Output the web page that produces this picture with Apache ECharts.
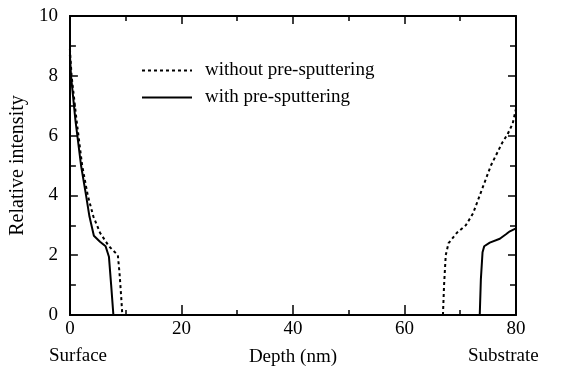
<!DOCTYPE html>
<html>
<head>
<meta charset="utf-8">
<script src="https://cdn.jsdelivr.net/npm/echarts@6/dist/echarts.min.js"></script>
<style>
  html, body { margin: 0; padding: 0; background: #fff; }
  #main { width: 562px; height: 375px; }
</style>
</head>
<body>
<div id="main"></div>
<script>
var dom = document.getElementById('main');
var myChart = echarts.init(dom);

// depth (nm), relative intensity
var withoutSurface = [[0, 8.9], [0.3, 8.0], [1.2, 6.5], [2.2, 5.0], [3.2, 4.0], [4.2, 3.3], [5.4, 2.75], [7.0, 2.3], [8.6, 2.0], [8.9, 1.4], [9.2, 0.6], [9.4, 0]];
var withoutSubstrate = [[66.9, 0], [67.1, 1.0], [67.4, 2.0], [67.9, 2.4], [69.4, 2.75], [71.0, 3.0], [72.3, 3.4], [73.3, 3.9], [74.1, 4.3], [75.5, 5.0], [77.5, 5.75], [78.5, 6.05], [79.4, 6.4], [80, 6.9]];
var withSurface = [[0, 8.7], [0.2, 8.0], [1.0, 6.5], [2.0, 5.0], [2.9, 4.0], [3.5, 3.3], [4.3, 2.65], [5.4, 2.45], [6.4, 2.3], [7.0, 1.95], [7.4, 1.0], [7.8, 0]];
var withSubstrate = [[73.5, 0], [73.7, 1.2], [74.0, 2.1], [74.3, 2.3], [75.3, 2.42], [77.1, 2.55], [78.2, 2.7], [78.9, 2.8], [80, 2.9]];

var seriesNames = ['without pre-sputtering', 'with pre-sputtering'];
var xTicks = [0, 20, 40, 60, 80];
var yTicks = [0, 2, 4, 6, 8, 10];

var font = 'Liberation Serif';

function lineSeries(name, data, dashed) {
    return {
        name: name,
        type: 'line',
        data: data,
        showSymbol: false,
        symbol: 'none',
        lineStyle: { color: '#000', width: 2, type: dashed ? [3, 3] : 'solid' },
        itemStyle: { color: '#000' },
        silent: true
    };
}

var tickStyle = { color: '#000', width: 1.5 };
var frameLine = { onZero: false, lineStyle: { color: '#000', width: 2 } };

var option = {
    animation: false,
    backgroundColor: '#fff',
    grid: { left: 69, right: 46, top: 16, bottom: 60, show: false },
    legend: {
        data: seriesNames,
        orient: 'vertical',
        left: 136,
        top: 56,
        itemWidth: 50,
        itemHeight: 14,
        itemGap: 8,
        itemStyle: { opacity: 0 },
        textStyle: { fontFamily: font, fontSize: 19, color: '#000', padding: [0, 0, 0, 8] }
    },
    xAxis: [{
        type: 'value',
        min: 0, max: 80, interval: 20,
        name: 'Depth (nm)',
        nameLocation: 'middle',
        nameGap: 33,
        nameTextStyle: { fontFamily: font, fontSize: 19, color: '#000' },
        axisLine: frameLine,
        axisTick: { inside: true, length: 10, lineStyle: tickStyle },
        minorTick: { show: true, splitNumber: 2, length: 5, lineStyle: tickStyle },
        axisLabel: { fontFamily: font, fontSize: 19, color: '#000', margin: 5,
            formatter: function (v) { return xTicks.indexOf(v) >= 0 ? v : ''; } },
        splitLine: { show: false }
    }, {
        type: 'value', position: 'top',
        min: 0, max: 80, interval: 20,
        axisLine: frameLine,
        axisTick: { inside: true, length: 8, lineStyle: tickStyle },
        minorTick: { show: true, splitNumber: 2, length: 5, lineStyle: tickStyle },
        axisLabel: { show: false },
        splitLine: { show: false }
    }],
    yAxis: [{
        type: 'value',
        min: 0, max: 10, interval: 2,
        name: 'Relative intensity',
        nameLocation: 'middle',
        nameGap: 37,
        nameTextStyle: { fontFamily: font, fontSize: 20, color: '#000' },
        axisLine: frameLine,
        axisTick: { inside: true, length: 8, lineStyle: tickStyle },
        minorTick: { show: true, splitNumber: 2, length: 6, lineStyle: tickStyle },
        axisLabel: { fontFamily: font, fontSize: 19, color: '#000', margin: 12,
            formatter: function (v) { return yTicks.indexOf(v) >= 0 ? v : ''; } },
        splitLine: { show: false }
    }, {
        type: 'value', position: 'right',
        min: 0, max: 10, interval: 2,
        axisLine: frameLine,
        axisTick: { inside: true, length: 8, lineStyle: tickStyle },
        minorTick: { show: true, splitNumber: 2, length: 6, lineStyle: tickStyle },
        axisLabel: { show: false },
        splitLine: { show: false }
    }],
    graphic: [{
        type: 'text', left: 49, top: 347,
        style: { text: 'Surface', font: '19px "Liberation Serif"', fill: '#000' }
    }, {
        type: 'text', left: 468, top: 347,
        style: { text: 'Substrate', font: '19px "Liberation Serif"', fill: '#000' }
    }],
    series: [
        lineSeries(seriesNames[0], withoutSurface, true),
        lineSeries(seriesNames[0], withoutSubstrate, true),
        lineSeries(seriesNames[1], withSurface, false),
        lineSeries(seriesNames[1], withSubstrate, false)
    ]
};

if (option && typeof option === 'object') {
    myChart.setOption(option, true);
}
</script>
</body>
</html>
